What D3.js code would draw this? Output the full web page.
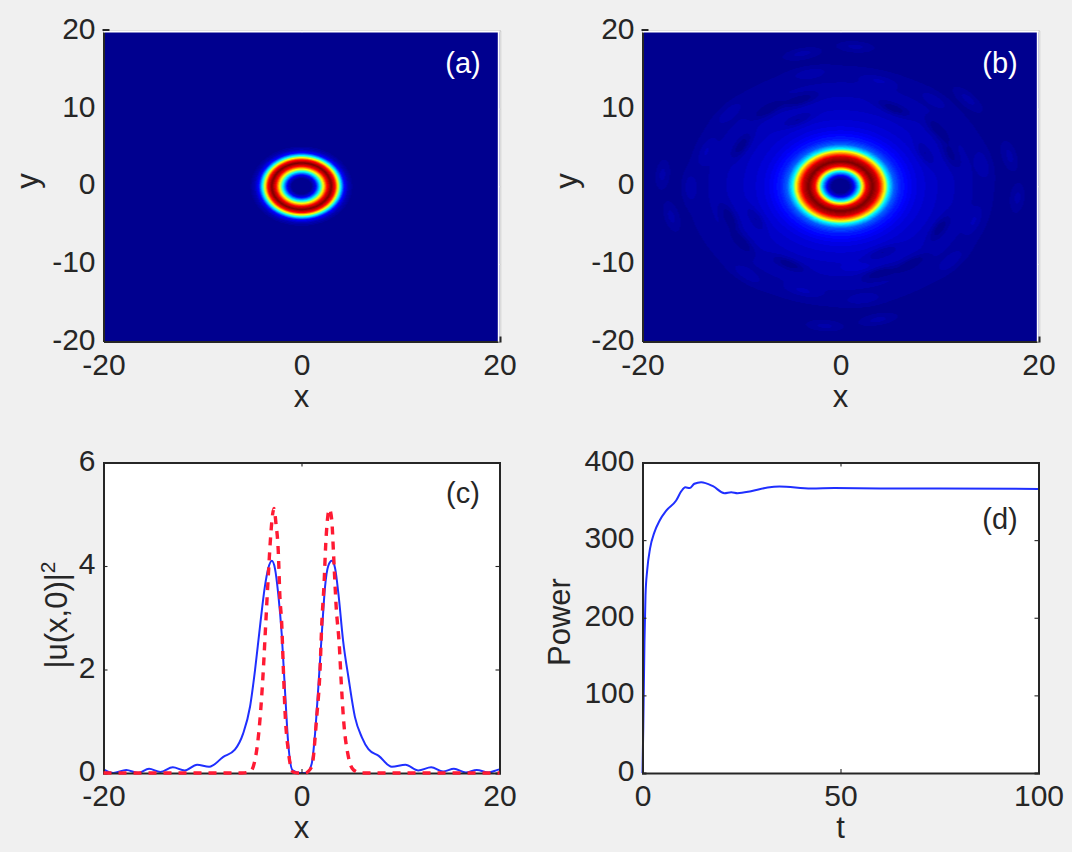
<!DOCTYPE html>
<html>
<head>
<meta charset="utf-8">
<script src="https://cdn.jsdelivr.net/npm/d3@7"></script>
<style>
  html, body { margin: 0; padding: 0; background: #f0f0f0; }
  svg { display: block; font-family: "Liberation Sans", Arial, sans-serif; }
</style>
</head>
<body>
<div id="chart"></div>
<script>
// (c) initial profile, red dashed
var redX = [-20, -6, -5.2, -4.7, -4.2, -3.86, -3.63, -3.36, -3.12, -2.95, -2.78, -2.58, -2.35, -2.18, -2, -1.84, -1.67, -1.34, -0.85, -0.3, 0, 0.35, 1.03, 1.54, 1.87, 2.05, 2.28, 2.45, 2.65, 2.82, 3.06, 3.22, 3.5, 3.83, 4, 4.23, 4.74, 5.25, 6, 20];
var redY = [0, 0, 0.02, 0.25, 1.02, 1.98, 2.82, 3.79, 4.56, 4.95, 5.11, 4.82, 4.3, 3.4, 2.89, 2.05, 1.21, 0.44, 0.02, 0, 0, 0, 0.12, 1.09, 1.98, 2.89, 3.66, 4.43, 4.95, 5.1, 4.88, 4.3, 3.22, 2.43, 1.8, 1.08, 0.31, 0.06, 0, 0];

// (c) output profile, blue solid
var blueX = [-20, -19, -17.7, -16.5, -15.4, -14.26, -13, -11.8, -10.55, -9.33, -7.9, -6.73, -5.9, -5.2, -4.7, -4.2, -3.7, -3.36, -3, -2.68, -2.35, -2, -1.67, -1.34, -0.9, -0.15, 0.52, 1.03, 1.37, 1.7, 2.05, 2.38, 2.7, 3.06, 3.4, 3.73, 4.2, 4.74, 5.4, 6.1, 6.76, 7.8, 9.13, 10.5, 11.8, 13.1, 14.3, 15.4, 16.6, 17.7, 18.9, 19.8, 20];
var blueY = [0.07, 0, 0.06, 0, 0.08, 0.02, 0.11, 0.05, 0.16, 0.12, 0.31, 0.45, 0.76, 1.28, 1.98, 2.82, 3.6, 3.95, 4.1, 3.95, 3.46, 2.69, 1.6, 0.57, 0.05, 0, 0, 0.18, 0.76, 1.66, 2.69, 3.6, 4, 4.1, 3.95, 3.46, 2.56, 1.85, 1.08, 0.69, 0.46, 0.33, 0.12, 0.16, 0.05, 0.11, 0.03, 0.08, 0.01, 0.06, 0.01, 0.06, 0.07];

// (d) power against t
var powerT = [0, 0.2, 0.5, 0.76, 1.2, 1.9, 3, 4.3, 6, 8.5, 9.8, 10.8, 11.9, 13.1, 14.8, 17.8, 20.7, 22.4, 24, 27.4, 31.6, 34.6, 42.6, 48.5, 60, 75, 100];
var powerP = [0, 60, 170, 229, 262, 289, 310, 325, 338, 351, 363, 368, 367, 372.6, 374.7, 369.5, 360.5, 361.8, 360.5, 363, 367.8, 369, 366.5, 367, 366.5, 366.5, 366];

// (a) and (b) intensity against radius, share of the peak
var ringAR = [0, 1, 1.4, 1.87, 2.2, 2.6, 3, 3.4, 3.7, 3.97, 4.3, 4.7, 5.3, 20];
var ringAV = [0, 0.01, 0.1, 0.37, 0.62, 0.88, 1, 0.86, 0.6, 0.36, 0.14, 0.05, 0, 0];
var ringBR = [0, 0.9, 1.3, 1.9, 2.2, 2.6, 3.2, 3.8, 4.15, 4.5, 4.85, 5.4, 6, 7, 8, 10, 13, 16, 20];
var ringBV = [0, 0.01, 0.09, 0.37, 0.62, 0.88, 1, 0.92, 0.78, 0.62, 0.37, 0.22, 0.16, 0.115, 0.085, 0.06, 0.034, 0.012, 0.004];

// (b) ripple patches away from the ring: position and change of intensity
var rippleX = [-7.34, -4.1, -4.3, 5.35, 9.9, 11.1, 8.5, -10, -11.2, -8.5, -10, -5.2, 4, 7.1, 4.2, 10, -3.87, 1.5, -3.1, 3.9, 9.5, 12.9, -11.3, -13.6, -15.2, -18, -17.1, 14.4, 17.1, 17.9, 13.5, 11.2, 1.6, -9.5, -3.8, 2.3, 3.8, -1.6];
var rippleY = [9.89, 11.1, 8.5, 10, 7.2, 4.1, 4.2, 5.2, -4.1, -4.2, -7.2, -10, -11.2, -10, -8.5, -5.4, 17.1, 18, 14.6, 13.6, 11.2, 11.2, 9.5, 4.5, -0.2, 1.5, -3.9, 2.8, 3.9, -1.5, -4.5, -9.7, -10.5, -11.4, -13.5, -14.6, -17.2, -18];
var rippleA = [-0.045, -0.045, -0.035, -0.045, -0.045, -0.035, -0.035, -0.045, -0.045, -0.035, -0.045, -0.045, -0.045, -0.045, -0.035, -0.045, 0.028, 0.028, 0.024, 0.024, 0.018, 0.028, 0.022, 0.024, 0.028, 0.028, 0.028, 0.024, 0.028, 0.028, 0.024, 0.024, 0.018, 0.024, 0.024, 0.024, 0.028, 0.028];

var heatXTicks = [-20, 0, 20];
var heatYTicks = [-20, -10, 0, 10, 20];
var profileXTicks = [-20, 0, 20];
var profileYTicks = [0, 2, 4, 6];
var timeTicks = [0, 50, 100];
var powerTicks = [0, 100, 200, 300, 400];

var ink = "#262626";
var fontSize = 30;

var svg = d3.select("#chart").append("svg")
  .attr("width", 1072)
  .attr("height", 852);

svg.append("rect").attr("width", 1072).attr("height", 852).attr("fill", "#f0f0f0");

// matlab jet with 64 steps
var jetScale = d3.scaleLinear()
  .domain([0, 0.125, 0.375, 0.625, 0.875, 1])
  .range(["#00008f", "#0000ff", "#00ffff", "#ffff00", "#ff0000", "#800000"])
  .clamp(true);
var jet = function(v) {
  var level = Math.min(63, Math.floor(Math.max(v, 0) * 64));
  return d3.rgb(jetScale(level / 63));
};

function heatmap(g, x, y, valueAt) {
  var x0 = x.range()[0], x1 = x.range()[1];
  var y0 = y.range()[1], y1 = y.range()[0];
  var w = Math.round(x1 - x0), h = Math.round(y1 - y0);
  var canvas = document.createElement("canvas");
  canvas.width = w;
  canvas.height = h;
  var ctx = canvas.getContext("2d");
  var img = ctx.createImageData(w, h);
  for (var j = 0; j < h; j++) {
    for (var i = 0; i < w; i++) {
      var c = jet(valueAt(x.invert(x0 + i + 0.5), y.invert(y0 + j + 0.5)));
      var k = (j * w + i) * 4;
      img.data[k] = c.r;
      img.data[k + 1] = c.g;
      img.data[k + 2] = c.b;
      img.data[k + 3] = 255;
    }
  }
  ctx.putImageData(img, 0, 0);
  g.append("image")
    .attr("x", x0)
    .attr("y", y0)
    .attr("width", w)
    .attr("height", h)
    .attr("href", canvas.toDataURL());
}

function addAxes(g, x, y, xTicks, yTicks, xName, boxed) {
  var x0 = x.range()[0], x1 = x.range()[1];
  var y0 = y.range()[0], y1 = y.range()[1];
  var plain = function(d) { return String(d); };

  // ticks are inward, on all four sides
  var bottom = g.append("g").attr("transform", "translate(0," + y0 + ")")
    .call(d3.axisBottom(x).tickValues(xTicks).tickSize(boxed ? -4 : 0).tickPadding(11).tickFormat(plain));
  var left = g.append("g").attr("transform", "translate(" + x0 + ",0)")
    .call(d3.axisLeft(y).tickValues(yTicks).tickSize(boxed ? -4 : 0).tickPadding(8).tickFormat(plain));
  var top = g.append("g").attr("transform", "translate(0," + (boxed ? y1 : y1 - 0.8) + ")")
    .call(d3.axisTop(x).tickValues(xTicks).tickSize(boxed ? -4 : -2).tickFormat(""));
  var right = g.append("g").attr("transform", "translate(" + (boxed ? x1 : x1 + 0.8) + ",0)")
    .call(d3.axisRight(y).tickValues(yTicks).tickSize(boxed ? -4 : -2).tickFormat(""));

  [bottom, left, top, right].forEach(function(a) {
    a.selectAll(".domain").attr("stroke", ink).attr("stroke-width", 2);
    a.selectAll(".tick line").attr("stroke", ink).attr("stroke-width", 1.1);
    a.selectAll("text")
      .attr("fill", ink)
      .attr("font-family", '"Liberation Sans", Arial, sans-serif')
      .attr("font-size", fontSize);
  });
  bottom.selectAll("text").attr("y", 33).attr("dy", 0);
  left.selectAll("text").attr("y", -2);

  if (!boxed) {
    // heat panels: white strip then a pale edge on top and right, dark only at the corners
    g.append("path")
      .attr("d", "M" + x0 + "," + (y1 + 0.6) + "H" + x1 + "M" + (x1 - 0.8) + "," + y1 + "V" + y0)
      .attr("fill", "none").attr("stroke", "#ffffff").attr("stroke-width", 1.8);
    [top, right].forEach(function(a) {
      a.selectAll(".domain").attr("stroke", "#d6d6d6").attr("stroke-width", 1.2);
      a.selectAll(".tick line").attr("stroke", "#c4c4c4").attr("stroke-width", 1);
    });
    g.append("path")
      .attr("d", "M" + (x0 - 1) + "," + (y1 - 1) + "H" + (x0 + 6))
      .attr("stroke", ink).attr("stroke-width", 2);
    g.append("path")
      .attr("d", "M" + (x1 + 1) + "," + (y0 + 1) + "V" + (y0 - 5))
      .attr("stroke", ink).attr("stroke-width", 2);
  }

  g.append("text")
    .attr("x", (x0 + x1) / 2)
    .attr("y", y0 + 65)
    .attr("text-anchor", "middle")
    .attr("fill", ink)
    .attr("font-size", 31)
    .text(xName);
}

function yLabel(g, px, py, build) {
  var t = g.append("text")
    .attr("transform", "translate(" + px + "," + py + ") rotate(-90)")
    .attr("text-anchor", "middle")
    .attr("fill", ink)
    .attr("font-size", 31);
  build(t);
}

function tag(g, px, py, label, color) {
  g.append("text")
    .attr("x", px)
    .attr("y", py)
    .attr("text-anchor", "middle")
    .attr("fill", color)
    .attr("font-size", 29)
    .text(label);
}

var panelW = 396, panelH = 310.5;
var leftX = 103.5, rightX = 642.5, topY = 341.5, lowY = 773;

// radial profiles, looked up through linear scales
var ringA = d3.scaleLinear().domain(ringAR).range(ringAV).clamp(true);
var ringB = d3.scaleLinear().domain(ringBR).range(ringBV).clamp(true);

function rippleAt(px, py) {
  var sum = 0;
  for (var i = 0; i < rippleX.length; i++) {
    // patches are stretched around the ring
    var r = Math.hypot(rippleX[i], rippleY[i]);
    var tx = -rippleY[i] / r, ty = rippleX[i] / r;
    var dx = px - rippleX[i], dy = py - rippleY[i];
    var along = dx * tx + dy * ty;
    var across = dx * ty - dy * tx;
    sum += rippleA[i] * Math.exp(-(along * along) / (2 * 1.2 * 1.2) - (across * across) / (2 * 0.45 * 0.45));
  }
  return sum;
}

// (a)
var ga = svg.append("g");
var xa = d3.scaleLinear().domain([-20, 20]).range([leftX, leftX + panelW]);
var ya = d3.scaleLinear().domain([-20, 20]).range([topY, topY - panelH]);
heatmap(ga, xa, ya, function(px, py) { return ringA(Math.hypot(px, py)); });
addAxes(ga, xa, ya, heatXTicks, heatYTicks, "x", false);
yLabel(ga, 38, 181, function(t) { t.text("y"); });
tag(ga, 463, 73, "(a)", "#ffffff");

// (b)
var gb = svg.append("g");
var xb = d3.scaleLinear().domain([-20, 20]).range([rightX, rightX + panelW]);
var yb = d3.scaleLinear().domain([-20, 20]).range([topY, topY - panelH]);
heatmap(gb, xb, yb, function(px, py) {
  var r = Math.hypot(px, py);
  var v = ringB(r);
  if (r > 6) v = Math.max(0, v + rippleAt(px, py));
  return v;
});
addAxes(gb, xb, yb, heatXTicks, heatYTicks, "x", false);
yLabel(gb, 577, 181, function(t) { t.text("y"); });
tag(gb, 1000, 73, "(b)", "#ffffff");

// (c)
var gc = svg.append("g");
var xc = d3.scaleLinear().domain([-20, 20]).range([leftX, leftX + panelW]);
var yc = d3.scaleLinear().domain([0, 6]).range([lowY, lowY - panelH]);
gc.append("rect")
  .attr("x", leftX).attr("y", lowY - panelH)
  .attr("width", panelW).attr("height", panelH)
  .attr("fill", "#ffffff");
var lineC = d3.line()
  .x(function(d) { return xc(d[0]); })
  .y(function(d) { return yc(d[1]); })
  .curve(d3.curveMonotoneX);
gc.append("path")
  .attr("d", lineC(d3.zip(blueX, blueY)))
  .attr("fill", "none").attr("stroke", "#1f2fff").attr("stroke-width", 2);
addAxes(gc, xc, yc, profileXTicks, profileYTicks, "x", true);
gc.append("path")
  .attr("d", lineC(d3.zip(redX, redY)))
  .attr("fill", "none").attr("stroke", "#ff1a33").attr("stroke-width", 3.4)
  .attr("stroke-dasharray", "8,7");
yLabel(gc, 67, 615, function(t) {
  t.append("tspan").text("|u(x,0)|");
  t.append("tspan").attr("font-size", 21).attr("dy", -12).text("2");
});
tag(gc, 463, 503, "(c)", ink);

// (d)
var gd = svg.append("g");
var xd = d3.scaleLinear().domain([0, 100]).range([rightX, rightX + panelW]);
var yd = d3.scaleLinear().domain([0, 400]).range([lowY, lowY - panelH]);
gd.append("rect")
  .attr("x", rightX).attr("y", lowY - panelH)
  .attr("width", panelW).attr("height", panelH)
  .attr("fill", "#ffffff");
gd.append("path")
  .attr("d", d3.line()
    .x(function(d) { return xd(d[0]); })
    .y(function(d) { return yd(d[1]); })
    .curve(d3.curveMonotoneX)(d3.zip(powerT, powerP)))
  .attr("fill", "none").attr("stroke", "#1f2fff").attr("stroke-width", 2);
addAxes(gd, xd, yd, timeTicks, powerTicks, "t", true);
yLabel(gd, 570, 622, function(t) { t.text("Power"); });
tag(gd, 1000, 529, "(d)", ink);
</script>
</body>
</html>
